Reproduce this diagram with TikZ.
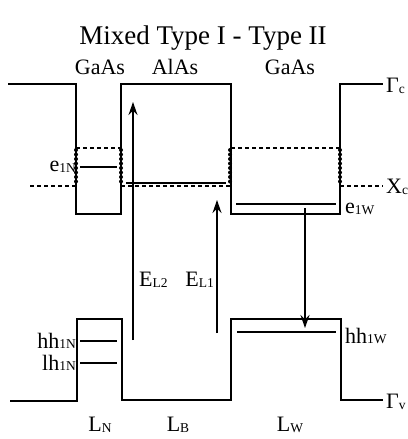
\documentclass[tikz,border=0pt]{standalone}
\usepackage{fontspec}
\setmainfont{Liberation Serif}
\usetikzlibrary{arrows.meta, positioning, calc}
\tikzset{
  band/.style={line width=1.8pt, line join=miter},
  xband/.style={line width=1.5pt, dash pattern=on 4pt off 3pt},
  wall/.style={line width=4pt, dash pattern=on 0pt off 4.5pt, line cap=round},
  level/.style={line width=1.4pt},
  arrow/.style={-{Stealth[length=13pt, width=9pt]}, line width=1.3pt},
  lbl/.style={font=\fontsize{22}{24}\selectfont, inner sep=0pt},
  ttl/.style={font=\fontsize{27}{29}\selectfont, inner sep=0pt}
}
\newcommand{\lsub}[1]{\raisebox{-0.5pt}{\fontsize{13.5}{14}\selectfont #1}}

\begin{document}
\begin{tikzpicture}[x=1pt, y=-1pt]
  \useasboundingbox (0,0) rectangle (407,439);

  % conduction band (Gamma)
  \draw [band] (8,84) -- (76,84) -- (76,214) -- (121,214) -- (121,84)
    -- (231,84) -- (231,214) -- (340,214) -- (340,84) -- (383,84);
  % conduction band (X)
  \draw [xband] (30,186) -- (76,186);
  \draw [xband] (76,148) -- (121,148);
  \draw [xband] (121,186) -- (231,186);
  \draw [xband] (231,148) -- (340,148);
  \draw [xband] (340,186) -- (383,186);
  \draw [level] (126,183) -- (226,183);
  \foreach \xw in {76,121,230,340}
    \draw [wall] (\xw,150) -- (\xw,186);

  % electron levels
  \coordinate (e1n-l) at (80,167);
  \coordinate (e1n-r) at (117,167);
  \coordinate (e1w-l) at (236,204);
  \coordinate (e1w-r) at (336,204);
  \draw [level] (e1n-l) -- (e1n-r);
  \draw [level] (e1w-l) -- (e1w-r);

  % valence band
  \draw [band] (10,401) -- (77,401) -- (77,319) -- (122,319) -- (122,400)
    -- (231,400) -- (231,319) -- (341,319) -- (341,400) -- (383,400);

  % hole levels
  \coordinate (hh1n-l) at (80,341);
  \coordinate (hh1n-r) at (117,341);
  \coordinate (lh1n-l) at (80,363);
  \coordinate (lh1n-r) at (117,363);
  \coordinate (hh1w-l) at (237,332);
  \coordinate (hh1w-r) at (336,332);
  \draw [level] (hh1n-l) -- (hh1n-r);
  \draw [level] (lh1n-l) -- (lh1n-r);
  \draw [level] (hh1w-l) -- (hh1w-r);

  % transitions
  \coordinate (el2-s) at (133,340);
  \coordinate (el2-e) at (133,102);
  \coordinate (el1-s) at (217,333);
  \coordinate (el1-e) at (217,200);
  \coordinate (rec-s) at (305,208);
  \coordinate (rec-e) at (305,328);
  \draw [arrow] (el2-s) -- (el2-e);
  \draw [arrow] (el1-s) -- (el1-e);
  \draw [arrow] (rec-s) -- (rec-e);

  % labels
  \node [ttl] (title) at (203,38) {Mixed Type I - Type II};
  \node [lbl] (gaas-n) at (100,67) {GaAs};
  \node [lbl] (alas) at (175,67) {AlAs};
  \node [lbl] (gaas-w) at (290,67) {GaAs};
  \node [lbl, anchor=west] (gc) at (386,86) {Γ\lsub{c}};
  \node [lbl, anchor=west] (xc) at (386,187) {X\lsub{c}};
  \node [lbl, anchor=west] (gv) at (386,402) {Γ\lsub{v}};
  \node [lbl, left=4pt of e1n-l] (e1n) {e\lsub{1N}};
  \node [lbl, anchor=west] (e1w) at (345,209) {e\lsub{1W}};
  \node [lbl, left=4pt of hh1n-l] (hh1n) {hh\lsub{1N}};
  \node [lbl, left=4pt of lh1n-l] (lh1n) {lh\lsub{1N}};
  \node [lbl, anchor=west] (hh1w) at (345,336) {hh\lsub{1W}};
  \node [lbl, anchor=west] (el2) at (139,280) {E\lsub{L2}};
  \node [lbl, anchor=east] (el1) at (214,280) {E\lsub{L1}};
  \node [lbl] (ln) at (100,425) {L\lsub{N}};
  \node [lbl] (lb) at (178,425) {L\lsub{B}};
  \node [lbl] (lw) at (290,425) {L\lsub{W}};
\end{tikzpicture}
\end{document}
